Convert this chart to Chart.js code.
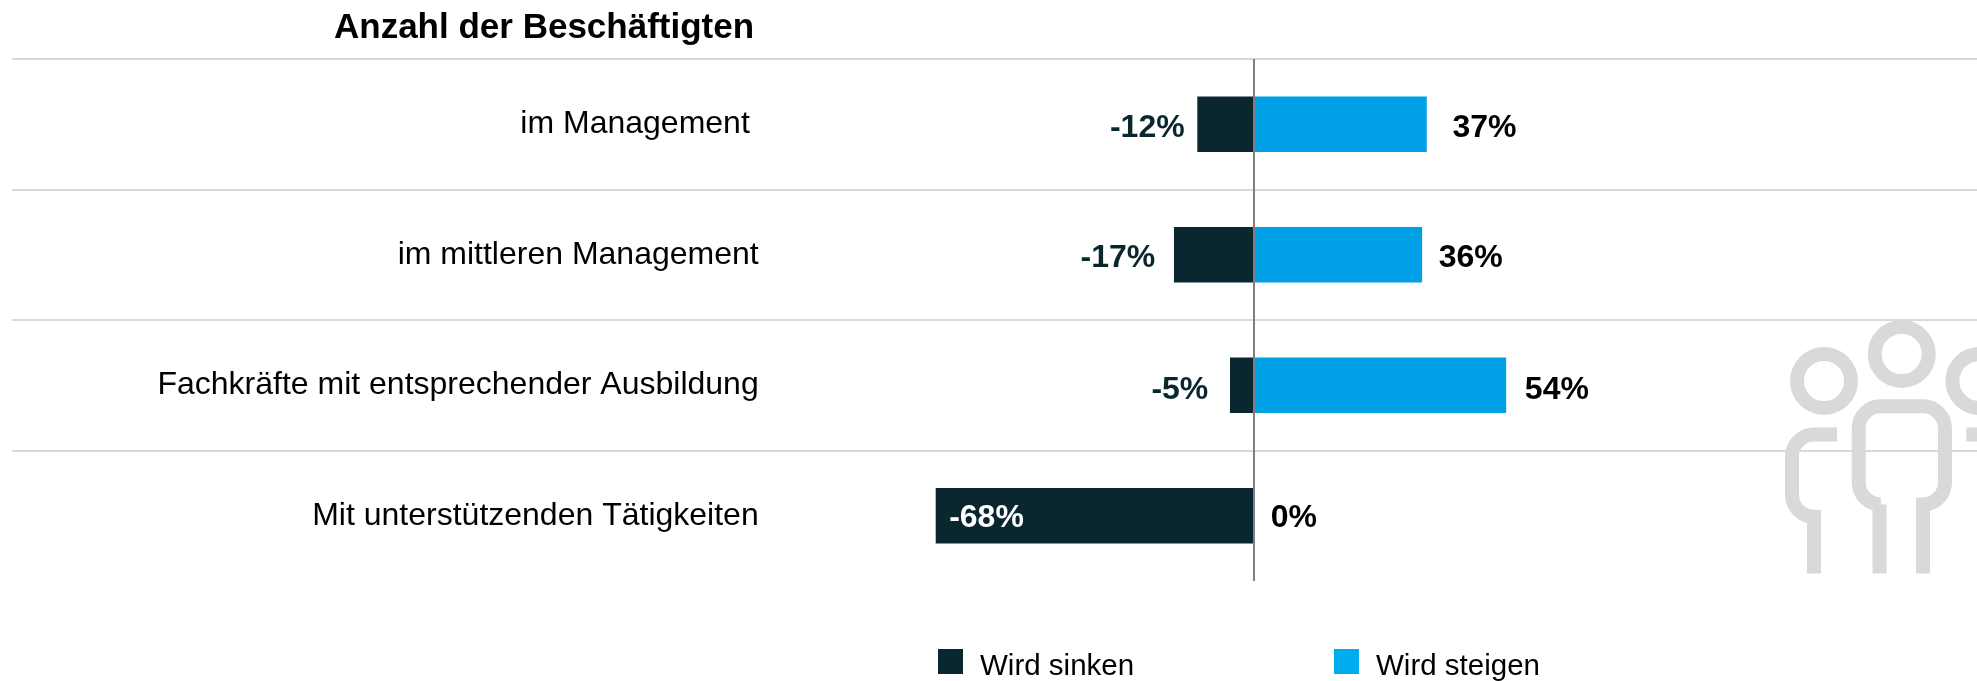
<!DOCTYPE html>
<html>
<head>
<meta charset="utf-8">
<title>Anzahl der Beschäftigten</title>
<script src="https://cdn.jsdelivr.net/npm/chart.js@4"></script>
<style>
  html, body { margin: 0; padding: 0; background: #fff; overflow: hidden; }
  canvas { display: block; }
</style>
</head>
<body>
<canvas id="chart" width="1977" height="681"></canvas>
<script>
const chartTitle = 'Anzahl der Beschäftigten';
const categories = ['im Management ', 'im mittleren Management', 'Fachkräfte mit entsprechender Ausbildung', 'Mit unterstützenden Tätigkeiten'];
const sinken = [-12, -17, -5, -68];
const steigen = [37, 36, 54, 0];
const seriesNames = ['Wird sinken', 'Wird steigen'];
const zeroTick = [0];

// gap between bar end and its value label, these differ per row in the original
const sinkenGaps = [13, 19, 22, 13];
const steigenGaps = [26, 17, 19, 17];
const labelNudge = [4, 3, 5, 2];

const dark = '#0a2730';
const blue = '#00a0e6';
const legendBlue = '#00aeef';
const fontFamily = '"Liberation Sans", Arial, sans-serif';

Chart.defaults.font.family = fontFamily;

// people icon on the right, runs off the canvas edge
const iconPath = new Path2D(
  'M1851 381a27 27 0 1 0 -54 0a27 27 0 1 0 54 0z' +
  'M1928.7 354a27 27 0 1 0 -54 0a27 27 0 1 0 54 0z' +
  'M2006.4 381a27 27 0 1 0 -54 0a27 27 0 1 0 54 0z' +
  'M1837 434.5H1814a22 22 0 0 0 -22 22V494.7a22 22 0 0 0 22 22V573.5' +
  'M1879.5 573.5V504.5H1880.7a22 22 0 0 1 -22 -22V428.3a22 22 0 0 1 22 -22H1923a22 22 0 0 1 22 22V482.5a22 22 0 0 1 -22 22V573.5' +
  'M1966.4 434.5H1989.4a22 22 0 0 1 22 22V494.7a22 22 0 0 1 -22 22V573.5'
);

const extras = {
  id: 'extras',
  beforeDraw(chart) {
    const ctx = chart.ctx;
    ctx.save();
    ctx.strokeStyle = '#d9d9d9';
    ctx.lineWidth = 14;
    ctx.stroke(iconPath);
    ctx.restore();
  },
  afterDraw(chart) {
    const ctx = chart.ctx;
    const x = chart.scales.x;
    ctx.save();
    ctx.textBaseline = 'middle';

    // title
    ctx.font = 'bold 35px ' + fontFamily;
    ctx.fillStyle = '#000';
    ctx.textAlign = 'left';
    ctx.fillText(chartTitle, 334, 28);

    // value labels
    ctx.font = 'bold 32px ' + fontFamily;
    chart.getDatasetMeta(0).data.forEach((bar, i) => {
      const v = sinken[i];
      const end = x.getPixelForValue(v);
      if (v < -50) {
        ctx.fillStyle = '#fff';
        ctx.textAlign = 'left';
        ctx.fillText(v + '%', end + sinkenGaps[i], bar.y + labelNudge[i]);
      } else {
        ctx.fillStyle = dark;
        ctx.textAlign = 'right';
        ctx.fillText(v + '%', end - sinkenGaps[i], bar.y + labelNudge[i]);
      }
    });
    chart.getDatasetMeta(1).data.forEach((bar, i) => {
      ctx.fillStyle = '#000';
      ctx.textAlign = 'left';
      ctx.fillText(steigen[i] + '%', x.getPixelForValue(steigen[i]) + steigenGaps[i], bar.y + labelNudge[i]);
    });

    // legend
    ctx.font = '29.5px ' + fontFamily;
    ctx.textAlign = 'left';
    [[938, dark], [1334, legendBlue]].forEach(([px, colour], i) => {
      ctx.fillStyle = colour;
      ctx.fillRect(px, 649, 25, 25);
      ctx.fillStyle = '#000';
      ctx.fillText(seriesNames[i], px + 42, 667);
    });
    ctx.restore();
  }
};

new Chart(document.getElementById('chart'), {
  type: 'bar',
  data: {
    labels: categories,
    datasets: [
      { label: seriesNames[0], data: sinken, backgroundColor: dark, barThickness: 55 },
      { label: seriesNames[1], data: steigen, backgroundColor: blue, barThickness: 55 }
    ]
  },
  options: {
    indexAxis: 'y',
    responsive: false,
    animation: false,
    layout: { padding: { left: 12, right: 0, top: 59, bottom: 100 } },
    plugins: {
      legend: { display: false },
      title: { display: false },
      tooltip: { enabled: false }
    },
    scales: {
      x: {
        stacked: true,
        min: -265.9,
        max: 154.9,
        afterBuildTicks(scale) { scale.ticks = zeroTick.map(value => ({ value })); },
        ticks: { display: false },
        border: { display: false },
        grid: { color: '#7f7f7f', lineWidth: 2, drawTicks: false, z: 1 }
      },
      y: {
        stacked: true,
        position: { x: -106 },
        ticks: { color: '#000', font: { size: 32 }, padding: 0, autoSkip: false },
        border: { display: false },
        grid: {
          color: c => (c.tick ? '#d9d9d9' : 'transparent'),
          lineWidth: 2,
          drawTicks: false
        }
      }
    }
  },
  plugins: [extras]
});
</script>
</body>
</html>
